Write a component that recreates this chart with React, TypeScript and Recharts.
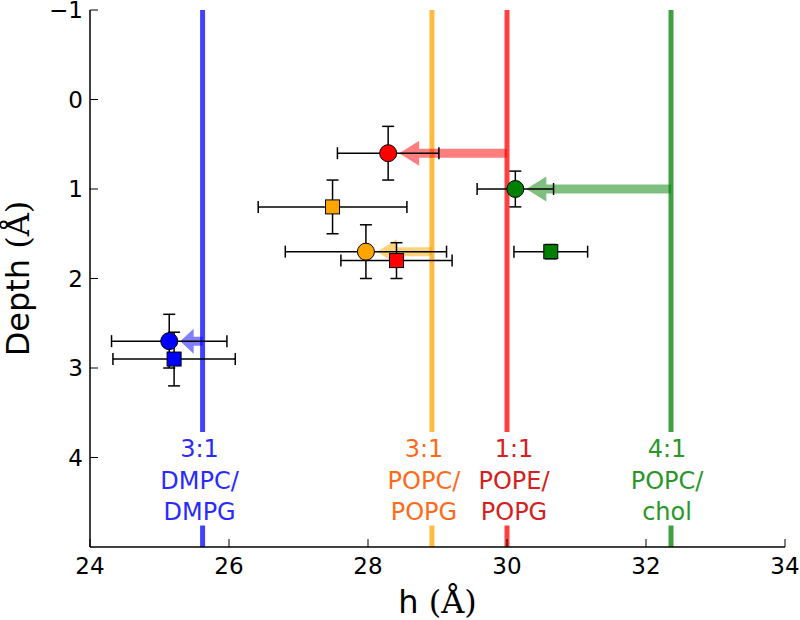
import React from 'react';
import { ComposedChart, Scatter, XAxis, YAxis, ErrorBar, ReferenceLine } from 'recharts';

// ---------------- data ----------------
const groupNames = ['3:1 DMPC/DMPG', '3:1 POPC/POPG', '1:1 POPE/POPG', '4:1 POPC/chol'];
const groupLabelLines = [
  ['3:1', 'DMPC/', 'DMPG'],
  ['3:1', 'POPC/', 'POPG'],
  ['1:1', 'POPE/', 'POPG'],
  ['4:1', 'POPC/', 'chol'],
];
const bilayerH = [25.62, 28.92, 30.0, 32.36];

const circleH = [25.14, 27.97, 28.29, 30.12];
const circleDepth = [2.7, 1.7, 0.6, 1.0];
const circleHErr = [0.83, 1.16, 0.73, 0.55];
const circleDepthErr = [0.3, 0.3, 0.3, 0.2];

const squareH = [25.21, 27.49, 28.41, 30.63];
const squareDepth = [2.9, 1.2, 1.8, 1.7];
const squareHErr = [0.88, 1.07, 0.8, 0.53];
const squareDepthErr = [0.3, 0.3, 0.2, 0.08];

const xTicks = [24, 26, 28, 30, 32, 34];
const yTicks = [-1, 0, 1, 2, 3, 4];
const xDomain = [24, 34];
const yDomain = [-1, 5];

// ---------------- styles ----------------
const FONT = '"DejaVu Sans", sans-serif';
const SERIF = '"DejaVu Serif", serif';
const markerColors = ['#0000ff', '#ffa500', '#ff0000', '#008000'];
const labelColors = ['#2a2aff', '#ff6a1a', '#d42020', '#2a962a'];
const labelDx = [-3, -8, 7, -4];

const circleData = circleH.map((h, i) => ({
  h, d: circleDepth[i], eh: circleHErr[i], ed: circleDepthErr[i], group: i, name: groupNames[i],
}));
const squareData = squareH.map((h, i) => ({
  h, d: squareDepth[i], eh: squareHErr[i], ed: squareDepthErr[i], group: i, name: groupNames[i],
}));

const fmt = (v: number) => (v < 0 ? '\u2212' + Math.abs(v) : String(v));

const NoMarker = () => <g />;
const CircleMarker = (props: any) => {
  const { cx, cy, payload } = props;
  return <circle cx={cx} cy={cy} r={8.5} fill={markerColors[payload.group]} stroke="#000" strokeWidth={1} />;
};
const SquareMarker = (props: any) => {
  const { cx, cy, payload } = props;
  return (
    <rect x={cx - 7} y={cy - 7} width={14} height={14} fill={markerColors[payload.group]} stroke="#000" strokeWidth={1} />
  );
};

const YTickLeft = (props: any) => {
  const { x, y, payload } = props;
  return (
    <g>
      <text x={x} y={y} dy="0.36em" textAnchor="end" fontSize={23} fontFamily={FONT} fill="#000">
        {fmt(payload.value)}
      </text>
      <line x1={x + 7} x2={x + 15} y1={y} y2={y} stroke="#000" strokeWidth={1} />
    </g>
  );
};
const YTickRight = (props: any) => {
  const { x, y } = props;
  return <line x1={x} x2={x - 8} y1={y} y2={y} stroke="#000" strokeWidth={1} />;
};
const XTickBottom = (props: any) => {
  const { x, y, payload } = props;
  return (
    <g>
      <text x={x} y={y} dy="0.72em" textAnchor="middle" fontSize={23} fontFamily={FONT} fill="#000">
        {fmt(payload.value)}
      </text>
      <line x1={x} x2={x} y1={y - 10} y2={y - 18} stroke="#000" strokeWidth={1} />
    </g>
  );
};
const XTickTop = (props: any) => {
  const { x, y } = props;
  return <line x1={x} x2={x} y1={y} y2={y + 8} stroke="#000" strokeWidth={1} />;
};

const makeArrow = (color: string) => (p: any) => {
  const { x1, y1, x2 } = p;
  const dir = x2 < x1 ? -1 : 1;
  const tip = x2 - dir * 11;
  const len = Math.abs(tip - x1);
  const headLen = Math.min(20, len * 0.6);
  const base = tip - dir * headLen;
  const hw = 4.5;
  const hh = 12.5;
  const pts = [
    [x1, y1 - hw], [base, y1 - hw], [base, y1 - hh], [tip, y1],
    [base, y1 + hh], [base, y1 + hw], [x1, y1 + hw],
  ].map((q) => q.join(',')).join(' ');
  return <polygon points={pts} fill={color} fillOpacity={0.5} stroke="none" />;
};

const makeBilayerLabel = (i: number) => (p: any) => {
  const vb = p.viewBox || {};
  const lx = vb.x;
  const bottom = vb.y + vb.height;
  const tx = lx + labelDx[i];
  return (
    <g>
      <rect x={lx - 5} y={bottom - 115} width={10} height={93.5} fill="#ffffff" />
      <text textAnchor="middle" fontSize={24} fontFamily={FONT} fill={labelColors[i]}>
        {groupLabelLines[i].map((t, k) => (
          <tspan key={k} x={tx} y={bottom - 90 + k * 31.5}>{t}</tspan>
        ))}
      </text>
    </g>
  );
};

const XTitle = (p: any) => {
  const vb = p.viewBox || { x: 90, y: 547, width: 695, height: 73 };
  return (
    <text x={vb.x + vb.width / 2} y={vb.y + 66} textAnchor="middle" fontSize={32} fontFamily={FONT} fill="#000">
      h <tspan fontFamily={SERIF}>(Å)</tspan>
    </text>
  );
};
const YTitle = (p: any) => {
  const vb = p.viewBox || { x: 0, y: 10, width: 90, height: 537 };
  const x = vb.x + 29;
  const y = vb.y + vb.height / 2;
  return (
    <text x={x} y={y} transform={`rotate(-90, ${x}, ${y})`} textAnchor="middle" fontSize={32} fontFamily={FONT} fill="#000">
      Depth <tspan fontFamily={SERIF}>(Å)</tspan>
    </text>
  );
};

const errBars = (
  [
    <ErrorBar key="ex" dataKey="eh" direction="x" width={6} stroke="#000" strokeWidth={1.5} isAnimationActive={false} />,
    <ErrorBar key="ey" dataKey="ed" direction="y" width={6} stroke="#000" strokeWidth={1.5} isAnimationActive={false} />,
  ]
);

export default function App() {
  return (
    <div style={{ position: 'absolute', left: 0, top: 0, width: 800, height: 620, background: '#fff' }}>
      <ComposedChart width={800} height={620} margin={{ top: 10, right: 15, bottom: 0, left: 0 }}>
        <XAxis
          xAxisId={0}
          type="number"
          dataKey="h"
          domain={xDomain}
          ticks={xTicks}
          allowDataOverflow
          height={73}
          tickSize={0}
          tickMargin={10}
          tick={XTickBottom}
          tickLine={false}
          axisLine={{ stroke: '#000', strokeWidth: 1.5 }}
          label={XTitle}
        />
        <XAxis
          xAxisId="top"
          orientation="top"
          type="number"
          domain={xDomain}
          ticks={xTicks}
          allowDataOverflow
          height={0}
          tickSize={0}
          tickMargin={0}
          tick={XTickTop}
          tickLine={false}
          axisLine={{ stroke: '#000', strokeWidth: 1.5 }}
        />
        <YAxis
          yAxisId={0}
          type="number"
          dataKey="d"
          domain={yDomain}
          ticks={yTicks}
          reversed
          allowDataOverflow
          width={90}
          tickSize={0}
          tickMargin={7}
          tick={YTickLeft}
          tickLine={false}
          axisLine={{ stroke: '#000', strokeWidth: 1.5 }}
          label={YTitle}
        />
        <YAxis
          yAxisId="right"
          orientation="right"
          type="number"
          domain={yDomain}
          ticks={yTicks}
          reversed
          allowDataOverflow
          width={0}
          tickSize={0}
          tickMargin={0}
          tick={YTickRight}
          tickLine={false}
          axisLine={{ stroke: '#000', strokeWidth: 1.5 }}
        />

        {bilayerH.map((h, i) => (
          <ReferenceLine
            key={'bl' + i}
            x={h}
            stroke={markerColors[i]}
            strokeOpacity={0.75}
            strokeWidth={5}
            label={makeBilayerLabel(i)}
          />
        ))}

        {bilayerH.map((h, i) => (
          <ReferenceLine
            key={'ar' + i}
            segment={[
              { x: h, y: circleDepth[i] },
              { x: circleH[i], y: circleDepth[i] },
            ]}
            shape={makeArrow(markerColors[i])}
          />
        ))}

        <Scatter name="circle errors" data={circleData} shape={NoMarker} isAnimationActive={false}>
          {errBars}
        </Scatter>
        <Scatter name="square errors" data={squareData} shape={NoMarker} isAnimationActive={false}>
          {errBars}
        </Scatter>
        <Scatter name="circles" data={circleData} shape={CircleMarker} isAnimationActive={false} />
        <Scatter name="squares" data={squareData} shape={SquareMarker} isAnimationActive={false} />
      </ComposedChart>
    </div>
  );
}
